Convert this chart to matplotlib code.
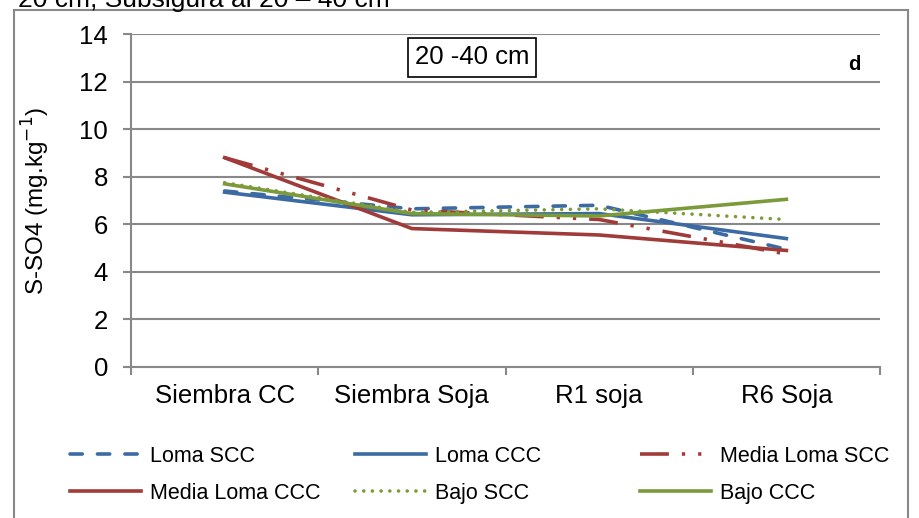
import matplotlib
matplotlib.use("Agg")
import matplotlib.pyplot as plt
from matplotlib.patches import Rectangle

categories = ["Siembra CC", "Siembra Soja", "R1 soja", "R6 Soja"]
loma_scc = [7.4, 6.65, 6.8, 4.95]
loma_ccc = [7.35, 6.4, 6.45, 5.4]
media_scc = [8.8, 6.6, 6.2, 4.75]
media_ccc = [8.8, 5.82, 5.55, 4.9]
bajo_scc = [7.75, 6.5, 6.65, 6.2]
bajo_ccc = [7.7, 6.45, 6.35, 7.05]

blue = "#3c6aa3"
red = "#a03b39"
green = "#7b9b3b"
grid = "#888888"

plt.rcParams['font.family'] = ['Liberation Sans', 'DejaVu Sans']

fig = plt.figure(figsize=(9.19, 5.18), dpi=100)
ax = fig.add_axes([131/919, 1-367/518, (880-131)/919, (367-34)/518])

x = list(range(len(categories)))
lw = 2.6
h = []
h += ax.plot(x, loma_scc, color=blue, lw=lw, dashes=(3.4, 4.2), dash_capstyle='round', label="Loma SCC")
h += ax.plot(x, loma_ccc, color=blue, lw=lw, label="Loma CCC")
h += ax.plot(x, media_scc, color=red, lw=lw, dashes=(8.0, 3.6, 0.9, 3.6, 0.9, 3.6), label="Media Loma SCC")
h += ax.plot(x, media_ccc, color=red, lw=lw, label="Media Loma CCC")
h += ax.plot(x, bajo_scc, color=green, lw=lw, dashes=(0.01, 2.4), dash_capstyle='round', label="Bajo SCC")
h += ax.plot(x, bajo_ccc, color=green, lw=lw, label="Bajo CCC")

ax.set_xlim(-0.5, 3.5)
ax.set_ylim(0, 14)
ax.set_yticks(range(0, 15, 2))
ax.set_xticks(x)
ax.set_xticklabels(categories)
ax.set_xticks([-0.5, 0.5, 1.5, 2.5, 3.5], minor=True)
ax.tick_params(axis='x', which='major', length=0, pad=12, labelsize=18.5)
ax.tick_params(axis='x', which='minor', length=5.5, color=grid, width=1.5)
ax.tick_params(axis='y', length=5.5, color=grid, width=1.5, labelsize=18.5, pad=11)
ax.yaxis.grid(True, color=grid, lw=1.5)
ax.set_axisbelow(True)
for s in ['top', 'right']:
    ax.spines[s].set_visible(False)
for s in ['left', 'bottom']:
    ax.spines[s].set_color(grid)
    ax.spines[s].set_linewidth(1.5)

ax.set_ylabel("S-SO4 (mg.kg$^{-1}$)", fontsize=17.5)
ax.yaxis.set_label_coords((52-131)/749, 0.5)

ax.text((472-131)/749, (367-57.5)/333, "20 -40 cm", transform=ax.transAxes, fontsize=18.5,
        ha='center', va='center',
        bbox=dict(boxstyle='square,pad=0.28', fc='white', ec='black', lw=1.2))
ax.text((854-131)/749, (367-64)/333, "d", transform=ax.transAxes, fontsize=14.5, fontweight='bold',
        ha='center', va='center')

# legend: three columns, filled row by row
col_x = [70, 355, 640]
for c in range(3):
    leg = fig.legend([h[c], h[c+3]], [h[c].get_label(), h[c+3].get_label()],
                     loc='upper left', bbox_to_anchor=(col_x[c]/919, 1-446/518),
                     frameon=False, fontsize=15.5, handlelength=3.3, handletextpad=0.4,
                     labelspacing=0.74, borderpad=0, borderaxespad=0)

# outer chart frame
fig.patches.append(Rectangle((14/919, -0.01), (908-14)/919, 1-10/518+0.01,
                             transform=fig.transFigure, fill=False,
                             ec=grid, lw=1.5))

fig.text(18/919, 1-7/518, "20 cm; Subsigura al 20 \u2013 40 cm", fontsize=19,
         ha='left', va='baseline')

fig.savefig("out.png", dpi=100)
